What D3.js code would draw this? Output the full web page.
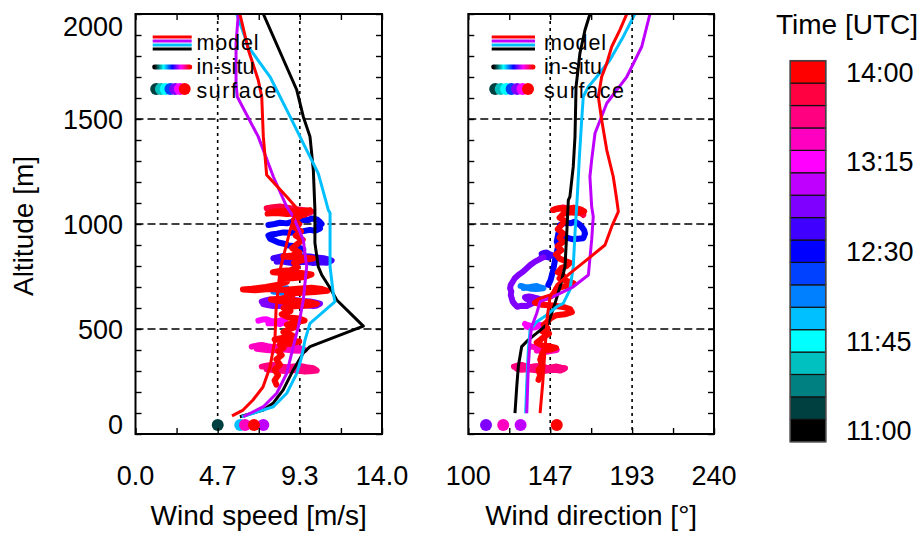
<!DOCTYPE html>
<html>
<head>
<meta charset="utf-8">
<script src="https://cdn.jsdelivr.net/npm/d3@7"></script>
<style>
  body { margin: 0; background: #fff; }
  text { font-family: "Liberation Sans", Arial, Helvetica, sans-serif; fill: #000; }
</style>
</head>
<body>
<svg id="chart" width="924" height="533"></svg>
<script>
// ---- colour table: 17 levels, 11:00 to 14:00 UTC ----
const timeColors = ["#000000","#004040","#008080","#00c0c0","#00ffff","#00c0ff","#0080ff","#0040ff",
  "#0000ff","#4000ff","#8000ff","#c000ff","#ff00ff","#ff00c0","#ff0080","#ff0040","#ff0000"];
const colorbarTicks = ["11:00","11:45","12:30","13:15","14:00"];

// ---- axis ticks ----
const altTicks = [0, 500, 1000, 1500, 2000];
const speedTicks = [0, 14/3, 28/3, 14];
const speedLabels = ["0.0", "4.7", "9.3", "14.0"];
const dirTicks = [100, 100 + 140/3, 100 + 280/3, 240];
const dirLabels = ["100", "147", "193", "240"];

// ---- model profiles: [wind speed m/s, altitude m] ----
const modelSpeed1100 = [[5.93,82],[7.26,114],[7.83,148],[8.39,210],[8.96,305],[9.53,386],[9.91,416],[12.94,514],[11.43,638],[11.05,695],[10.58,757],[10.38,797],[10.19,910],[10.19,1067],[10.10,1257],[9.91,1416],[9.53,1511],[9.16,1638],[7.26,2000]];
const modelSpeed1200 = [[6.03,82],[6.69,99],[7.83,130],[8.59,194],[9.16,289],[9.44,368],[9.63,448],[9.91,527],[11.33,630],[11.23,670],[11.05,797],[11.05,1052],[10.95,1067],[10.38,1241],[9.53,1384],[8.78,1511],[7.64,1701],[6.41,1844],[5.75,2000]];
const modelSpeed1300 = [[6.12,82],[7.26,130],[8.02,194],[8.59,289],[8.96,416],[9.25,511],[9.53,638],[9.72,797],[9.53,924],[8.96,1035],[8.59,1082],[7.83,1225],[6.97,1416],[5.78,1606],[5.71,1670],[5.71,1860],[5.84,2000]];
const modelSpeed1400 = [[5.48,86],[6.11,114],[6.67,162],[7.24,224],[7.64,319],[7.92,448],[7.98,590],[8.21,781],[8.78,971],[9.16,1075],[8.59,1130],[7.45,1233],[7.26,1416],[7.17,1606],[6.97,1686],[6.41,1829],[5.93,2000]];

// ---- model profiles: [wind direction deg, altitude m] ----
const modelDir1100 = [[126.6,99],[127.6,225],[128.5,321],[130.4,416],[134.2,448],[139.0,480],[145.6,527],[149.4,622],[152.3,701],[155.1,797],[156.1,957],[157.0,1114],[157.9,1130],[159.8,1273],[160.8,1416],[161.4,1654],[163.6,1813],[166.5,1924],[169.3,2000]];
const modelDir1200 = [[132.7,99],[133.3,241],[134.2,400],[135.2,495],[139.0,535],[144.7,567],[150.4,606],[154.1,622],[157.9,686],[159.8,797],[160.8,957],[162.1,1130],[163.2,1305],[164.6,1495],[165.5,1606],[168.4,1654],[173.2,1701],[180.7,1781],[188.3,1892],[194.9,2000]];
const modelDir1300 = [[133.3,99],[134.2,321],[135.2,448],[136.1,511],[139.0,575],[140.9,630],[148.4,654],[159.8,701],[168.4,757],[170.3,924],[171.2,1035],[170.3,1082],[169.3,1225],[170.3,1305],[172.2,1432],[178.9,1575],[190.3,1701],[198.8,1844],[203.5,2000]];
const modelDir1400 = [[140.9,99],[142.4,241],[143.7,400],[145.0,559],[146.6,654],[150.4,710],[157.9,765],[167.5,829],[177.9,900],[181.7,987],[185.5,1059],[184.6,1114],[182.6,1225],[178.9,1352],[176.0,1495],[174.1,1606],[176.0,1701],[178.9,1765],[181.7,1844],[186.4,1924],[190.3,2000]];

const modelRuns = [
  ["11:00", modelSpeed1100, modelDir1100],
  ["12:00", modelSpeed1200, modelDir1200],
  ["13:00", modelSpeed1300, modelDir1300],
  ["14:00", modelSpeed1400, modelDir1400]
];

// ---- in-situ flight tracks: wind speed [m/s, m] ----
const speed1208 = [[7.64,694],[7.9,690],[8.12,684],[8.4,690],[8.59,694],[8.5,682],[8.31,673],[8.0,676],[7.83,678]];
const speed1230 = [[7.55,995],[7.9,1000],[8.21,1006],[8.6,1003],[8.97,1012],[9.3,1015],[9.53,1020],[9.8,1018],[10.0,1026],[10.3,1022],[10.45,1012],[10.57,1000],[10.4,990],[10.48,979],[10.2,968],[9.9,972],[9.53,966],[9.1,962],[8.78,958],[8.4,960],[8.02,954],[7.7,950],[7.55,945],[7.64,930],[8.12,912],[8.5,905],[8.69,898],[9.0,895],[9.25,890],[9.53,878]];
const speed1241 = [[7.83,837],[8.1,842],[8.40,848],[8.8,843],[9.15,841],[9.5,847],[9.91,845],[10.3,840],[10.67,837],[11.0,830],[11.14,826],[10.86,815],[10.5,818],[10.10,814],[9.7,820],[9.34,818],[8.9,814],[8.59,818],[8.3,822],[8.02,820]];
const speed1253 = [[7.17,630],[7.4,636],[7.64,641],[8.0,637],[8.40,635],[8.8,640],[9.15,637],[9.5,633],[9.91,631],[10.2,626],[10.48,621],[10.3,612],[10.10,609],[9.7,613],[9.34,612],[8.9,608],[8.59,607],[8.2,610],[7.83,609],[7.5,614],[7.26,619]];
const speed1315 = [[6.98,540],[7.2,545],[7.45,546],[7.7,538],[8.02,535],[8.3,542],[8.50,540],[8.4,530],[8.21,524],[7.9,528],[7.55,527]];
const speed1326 = [[6.60,416],[6.9,421],[7.17,424],[7.5,418],[7.83,413],[8.2,417],[8.59,419],[9.0,412],[9.34,408],[9.62,400],[9.3,396],[8.97,398],[8.6,401],[8.21,403],[7.8,398],[7.45,400],[7.1,404],[6.88,406]];
const speed1338 = [[7.17,321],[7.5,326],[7.83,329],[8.2,322],[8.59,318],[9.0,322],[9.34,324],[9.7,318],[10.10,313],[10.29,302],[9.9,299],[9.62,297],[9.2,302],[8.88,305],[8.5,300],[8.12,302],[7.8,305],[7.45,308]];
const speed1349 = [[7.45,1075],[7.8,1080],[8.21,1083],[8.7,1076],[9.15,1070],[9.6,1066],[10.01,1059],[9.8,1050],[9.53,1043]];
const speed1400 = [[9.6,1045],[9.2,1050],[8.6,1047],[8.0,1052],[7.5,1050],[7.8,1058],[8.5,1062],[9.3,1060],[9.9,1066],[9.4,1040],[9.0,1020],[9.3,1000],[9.0,985],[9.4,965],[9.1,945],[9.5,925],[9.2,905],[8.9,885],[9.3,865],[8.9,850],[8.4,845],[9.0,842],[9.6,840],[10.1,836],[9.5,828],[9.0,815],[9.2,795],[8.8,780],[8.2,776],[7.8,770],[8.5,765],[9.3,768],[10.0,760],[9.6,748],[8.9,742],[8.3,740],[8.6,725],[8.2,712],[7.4,700],[6.6,692],[6.1,688],[6.8,684],[7.6,690],[8.4,686],[9.2,692],[10.0,696],[10.6,690],[10.9,682],[10.2,676],[9.4,672],[8.6,668],[8.9,655],[8.3,645],[7.7,640],[8.4,630],[9.2,635],[9.9,628],[10.3,620],[9.8,612],[9.0,608],[8.4,600],[8.8,585],[8.3,570],[8.7,555],[9.3,550],[9.6,540],[9.0,532],[8.6,520],[9.1,510],[8.7,498],[8.4,485],[8.9,470],[8.4,458],[7.9,450],[8.6,444],[9.3,440],[8.8,430],[8.2,425],[8.4,410],[8.1,395],[8.3,375],[8.0,355],[8.2,330],[7.9,305],[8.1,280],[7.9,255],[8.0,235]];

// ---- in-situ flight tracks: wind direction [deg, m] ----
const dir1208 = [[129.8,705],[132,700],[134.2,698],[137,703],[139.0,705],[141,698],[142.8,694],[139,690],[136.1,692],[133,697],[131.4,695]];
const dir1230 = [[152.3,995],[154,1002],[156.1,1006],[158.5,1004],[160.8,1011],[163,1000],[164.6,987],[166,970],[166.5,955],[166,943],[165.5,932],[162.5,930],[159.8,927],[157,933],[154.1,937],[152.5,947],[151.3,955],[150.4,916],[151.2,896],[150.7,876],[149.4,829],[148.4,781],[146.9,733],[145.6,710]];
const dir1241 = [[141.8,857],[143,862],[144.7,864],[146,857],[147.5,852],[146.5,846],[145.6,841],[143.5,845],[141.8,844]];
const dir1253 = [[142.8,841],[140.5,832],[138.0,821],[135.5,806],[133.3,789],[131,772],[128.5,757],[126.5,742],[125.3,725],[124.2,710],[123.8,694],[124.5,678],[124.2,662],[124.8,645],[125.3,630],[126.5,617],[127.9,606],[130.5,611],[133.3,609],[136,620],[138.6,630],[140.9,641],[139,647],[137.1,651],[134.5,655],[132.3,651],[133,644],[134.2,638]];
const dir1315 = [[132.3,524],[134,518],[136.1,514],[138.5,521],[140.9,519],[139.5,512],[138.0,508],[135.5,506],[133.3,511]];
const dir1326 = [[136.1,416],[138.5,412],[140.9,408],[143,414],[145.6,419],[148,408],[150.4,400],[147.5,396],[144.7,392],[142,399],[139.0,397]];
const dir1338 = [[126.0,321],[128,326],[130.4,329],[133,322],[135.2,318],[138,323],[140.9,324],[143,319],[145.6,313],[148,318],[150.4,321],[153,316],[155.1,313],[154,307],[152.3,302],[149.5,306],[146.6,305],[143,300],[139.9,302],[136.5,306],[133.3,308],[130.5,306],[127.6,311]];
const dir1349 = [[148.4,1067],[150,1073],[152,1075],[154.1,1079],[157,1072],[160.8,1067],[163,1060],[165.5,1043]];
const dir1400 = [[148.4,1067],[152,1075],[156,1072],[160,1078],[164,1070],[166,1060],[162,1052],[158,1056],[154,1048],[152,1030],[155,1015],[153,995],[151,975],[154,955],[152,935],[154,915],[151,895],[153,875],[150,855],[152,835],[155,825],[158,815],[156,800],[153,790],[151,770],[154,755],[152,740],[156,730],[160,718],[157,708],[153,700],[150,690],[149,670],[147,655],[143,645],[140,635],[138,625],[142,615],[148,612],[154,605],[158,595],[159,580],[155,570],[150,565],[147,552],[145,535],[143,520],[145,505],[142,490],[146,478],[143,462],[141,448],[139,435],[142,422],[146,418],[150,410],[147,402],[143,398],[142,380],[141,355],[142,330],[140,305],[141,280],[140,258]];

const speedTracks = [["12:08",speed1208],["12:30",speed1230],["12:41",speed1241],["12:53",speed1253],
  ["13:15",speed1315],["13:26",speed1326],["13:38",speed1338],["13:49",speed1349],["14:00",speed1400]];
const dirTracks = [["12:08",dir1208],["12:30",dir1230],["12:41",dir1241],["12:53",dir1253],
  ["13:15",dir1315],["13:26",dir1326],["13:38",dir1338],["13:49",dir1349],["14:00",dir1400]];

// ---- surface station values ----
const surfaceAlt = 43;
const surfaceSpeed = [["11:11",4.67],["11:56",5.95],["13:04",7.26],["13:26",6.22],["14:00",6.73]];
const surfaceDir = [["12:53",110.1],["13:04",129.8],["13:26",119.9],["14:00",150.4]];

// ---- helpers ----
const toMin = s => { const [h, m] = s.split(":").map(Number); return (h - 11) * 60 + m; };
const colourIndex = s => Math.max(0, Math.min(16, Math.round(toMin(s) / 11.25)));
const colourOf = s => timeColors[colourIndex(s)];

const svg = d3.select("#chart");
const defs = svg.append("defs");
const plotTop = 14, plotBottom = 434;
const y = d3.scaleLinear().domain([0, 2000]).range([plotBottom, plotTop]);

// gradient used by the in-situ legend line
const grad = defs.append("linearGradient").attr("id", "insituGrad")
  .attr("x1", 0).attr("x2", 1).attr("y1", 0).attr("y2", 0);
grad.selectAll("stop").data(timeColors).join("stop")
  .attr("offset", (d, i) => i / 16).attr("stop-color", d => d);

function panel(cfg) {
  const x = d3.scaleLinear().domain(cfg.domain).range(cfg.range);
  const [x0, x1] = cfg.range;
  const g = svg.append("g");
  const clipId = "clip-" + cfg.id;
  defs.append("clipPath").attr("id", clipId)
    .append("rect").attr("x", x0).attr("y", plotTop).attr("width", x1 - x0).attr("height", plotBottom - plotTop);

  // grid
  g.append("g").selectAll("line").data([500, 1000, 1500]).join("line")
    .attr("x1", x0).attr("x2", x1).attr("y1", d => y(d)).attr("y2", d => y(d))
    .attr("stroke", "#000").attr("stroke-width", 1.6).attr("stroke-dasharray", "8,4");
  g.append("g").selectAll("line").data(cfg.ticks.slice(1, 3)).join("line")
    .attr("x1", d => x(d)).attr("x2", d => x(d)).attr("y1", plotTop).attr("y2", plotBottom)
    .attr("stroke", "#000").attr("stroke-width", 1.6).attr("stroke-dasharray", "3,4");

  const plot = g.append("g").attr("clip-path", `url(#${clipId})`);

  // in-situ tracks
  const trackLine = d3.line().x(d => x(d[0])).y(d => y(d[1]));
  plot.append("g").selectAll("path").data(cfg.tracks).join("path")
    .attr("d", d => trackLine(d[1]))
    .attr("fill", "none").attr("stroke", d => colourOf(d[0]))
    .attr("stroke-width", 6).attr("stroke-linecap", "round").attr("stroke-linejoin", "round");

  // model profiles
  const modelLine = d3.line().x(d => x(d[0])).y(d => y(d[1]));
  plot.append("g").selectAll("path").data(modelRuns).join("path")
    .attr("d", d => modelLine(d[cfg.modelIndex]))
    .attr("fill", "none").attr("stroke", d => colourOf(d[0]))
    .attr("stroke-width", 3).attr("stroke-linejoin", "round");

  // surface values
  plot.append("g").selectAll("circle")
    .data(cfg.surface.slice().sort((a, b) => toMin(a[0]) - toMin(b[0]))).join("circle")
    .attr("cx", d => x(d[1])).attr("cy", y(surfaceAlt)).attr("r", 6)
    .attr("fill", d => colourOf(d[0]));

  // inward ticks on all four sides
  const minor = d3.range(0, 7).map(i => cfg.domain[0] + i * (cfg.domain[1] - cfg.domain[0]) / 6);
  const altMinor = d3.range(0, 2001, 100);
  const tk = sel => { sel.select(".domain").remove(); sel.selectAll("line").attr("stroke-width", 1.4); };
  g.append("g").attr("transform", `translate(0,${plotBottom})`)
    .call(d3.axisBottom(x).tickValues(minor).tickSize(-6).tickFormat("")).call(tk);
  g.append("g").attr("transform", `translate(0,${plotTop})`)
    .call(d3.axisTop(x).tickValues(minor).tickSize(-6).tickFormat("")).call(tk);
  g.append("g").attr("transform", `translate(${x0},0)`)
    .call(d3.axisLeft(y).tickValues(altMinor).tickSize(-6).tickFormat("")).call(tk);
  g.append("g").attr("transform", `translate(${x1},0)`)
    .call(d3.axisRight(y).tickValues(altMinor).tickSize(-6).tickFormat("")).call(tk);

  // frame
  g.append("rect").attr("x", x0).attr("y", plotTop).attr("width", x1 - x0).attr("height", plotBottom - plotTop)
    .attr("fill", "none").attr("stroke", "#000").attr("stroke-width", 2);

  // x tick labels and title
  g.append("g").selectAll("text").data(cfg.ticks).join("text")
    .attr("x", d => x(d)).attr("y", 485).attr("text-anchor", "middle")
    .attr("font-size", 27).text((d, i) => cfg.labels[i]);
  g.append("text").attr("x", (x0 + x1) / 2).attr("y", 525).attr("text-anchor", "middle")
    .attr("font-size", 28).text(cfg.title);

  // legend
  const L = cfg.legend;
  const legendModels = modelRuns.slice().reverse();
  g.append("g").selectAll("line").data(legendModels).join("line")
    .attr("x1", L.x0).attr("x2", L.x1).attr("y1", (d, i) => 37 + i * 4).attr("y2", (d, i) => 37 + i * 4)
    .attr("stroke", d => colourOf(d[0])).attr("stroke-width", 3);
  g.append("line").attr("x1", L.x0 + 2).attr("x2", L.x1 - 2).attr("y1", 67).attr("y2", 67.01)
    .attr("stroke", "url(#insituGrad)").attr("stroke-width", 5).attr("stroke-linecap", "round");
  const legendDots = ["11:11","11:34","11:45","12:19","12:53","13:15","14:00"];
  const dotX = d3.scalePoint().domain(legendDots).range([L.x0 + 3.5, L.x1 - 7]);
  g.append("g").selectAll("circle").data(legendDots).join("circle")
    .attr("cx", d => dotX(d)).attr("cy", 89).attr("r", 6).attr("fill", d => colourOf(d));
  g.append("g").selectAll("text").data(["model", "in-situ", "surface"]).join("text")
    .attr("x", L.tx).attr("y", (d, i) => [49.5, 74, 98.2][i]).attr("font-size", 21.5)
    .attr("textLength", (d, i) => [62, 58, 80][i] * cfg.legendStretch)
    .text(d => d);

  return x;
}

panel({ id: "speed", domain: [0, 14], range: [135.5, 382], ticks: speedTicks, labels: speedLabels,
  title: "Wind speed [m/s]", tracks: speedTracks, modelIndex: 1, surface: surfaceSpeed,
  legend: { x0: 152.7, x1: 191.7, tx: 196.5 }, legendStretch: 1 });
panel({ id: "dir", domain: [100, 240], range: [468.3, 714], ticks: dirTicks, labels: dirLabels,
  title: "Wind direction [°]", tracks: dirTracks, modelIndex: 2, surface: surfaceDir,
  legend: { x0: 491.7, x1: 535, tx: 544 }, legendStretch: 1 });

// altitude axis labels
svg.append("g").selectAll("text").data(altTicks).join("text")
  .attr("x", 123).attr("y", d => Math.min(Math.max(y(d), plotTop + 12), plotBottom - 10))
  .attr("dy", "0.36em").attr("text-anchor", "end").attr("font-size", 27).text(d => d);
svg.append("text").attr("transform", "translate(33,226) rotate(-90)")
  .attr("text-anchor", "middle").attr("font-size", 28).text("Altitude [m]");

// colour bar, lowest level at the bottom
const cbX = 790.3, cbW = 35.4, cbTop = 60.7, cbBottom = 441.7;
const cbY = d3.scaleLinear().domain([0, timeColors.length]).range([cbBottom, cbTop]);
svg.append("g").selectAll("rect").data(timeColors).join("rect")
  .attr("x", cbX).attr("y", (d, i) => cbY(i + 1)).attr("width", cbW)
  .attr("height", cbY(0) - cbY(1)).attr("fill", d => d)
  .attr("stroke", "#111").attr("stroke-width", 1.2);
svg.append("rect").attr("x", cbX).attr("y", cbTop).attr("width", cbW).attr("height", cbBottom - cbTop)
  .attr("fill", "none").attr("stroke", "#444").attr("stroke-width", 1.5);
svg.append("g").selectAll("text").data(colorbarTicks).join("text")
  .attr("x", 846).attr("y", d => cbY(colourIndex(d) + 0.5))
  .attr("dy", "0.36em").attr("font-size", 27).text(d => d);
svg.append("text").attr("x", 847).attr("y", 34).attr("text-anchor", "middle")
  .attr("font-size", 28).text("Time [UTC]");
</script>
</body>
</html>
